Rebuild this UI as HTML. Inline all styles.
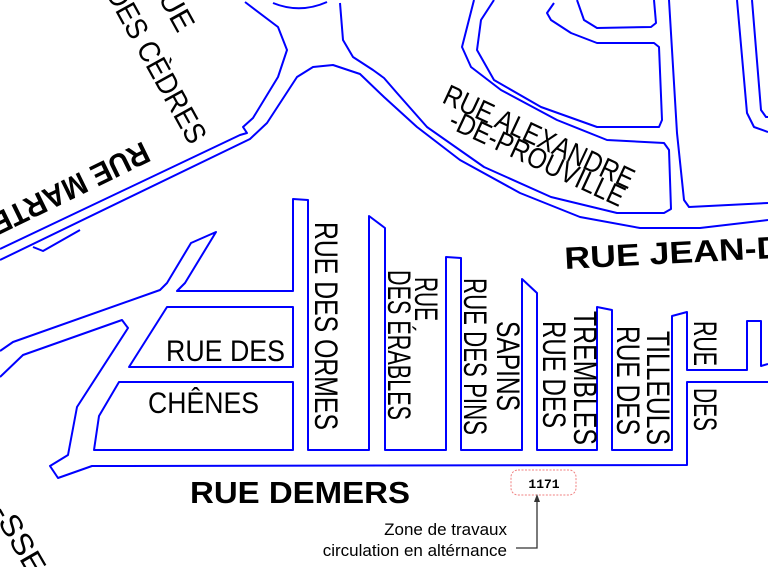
<!DOCTYPE html>
<html><head><meta charset="utf-8"><style>
html,body{margin:0;padding:0;background:#fff;}
svg{display:block;}
text{font-family:"Liberation Sans",sans-serif;fill:#000;}
</style></head><body>
<svg width="768" height="567" viewBox="0 0 768 567" xmlns="http://www.w3.org/2000/svg">
<g fill="none" stroke="#0000ff" stroke-width="2" stroke-linejoin="round">
<polyline points="0,249 240,135 247,133 243,127 253,118 278,77 287,50 278,27 245,2"/>
<polyline points="0,260 250,139 267,123 297,77 313,67 333,65 360,74 384,97 417,127 460,160 520,193 580,217 640,228 700,228 768,220"/>
<path d="M33,247 L43,251 L80,230"/>
<path d="M273,3 Q300,14 327,2"/>
<polyline points="340,3 343,40 353,57 373,70 384,78 397,93 427,127 484,167 551,197 617,213 664,213 671,209 669,150 664,143 607,140 557,120 501,90 471,67 462,47 474,0"/>
<polyline points="494,0 481,20 477,50 494,80 541,107 597,127 659,127 662,120 659,47 654,43 597,43 571,33 551,20 547,13 554,3"/>
<polyline points="577,0 584,20 597,28 651,27 656,23 654,0"/>
<polyline points="669,0 677,133 684,200 689,207 768,203"/>
<polyline points="737,0 747,113 754,127 768,132"/>
<polyline points="752,0 761,110 766,117 768,117"/>
<polyline points="0,351 13,342 160,290 167,283 191,243 216,232 185,283 177,291 293,291 293,199 308,200 308,450 369,450 369,216 385,228 385,450 446,450 446,257 461,258 461,450 522,450 522,279 537,293 537,450 597,450 597,307 612,310 612,450 672,450 672,316 687,312 687,370 747,370 747,321 761,321 761,366 768,364"/>
<polyline points="768,382 687,382 687,465 92,466 58,478 50,466 68,455 77,407 128,328 122,320 23,355 0,377"/>
<polygon points="167,307 293,307 293,367 129,367"/>
<polygon points="119,382 293,382 293,450 94,450 99,416"/>
</g>
<text transform="translate(143,141) rotate(154)" font-size="31" font-weight="bold" textLength="190" lengthAdjust="spacingAndGlyphs">RUE MARTEL</text>
<text transform="translate(178,34) rotate(61)" font-size="30" text-anchor="end">RUE</text>
<text transform="translate(190,146) rotate(61)" font-size="30" text-anchor="end" textLength="175" lengthAdjust="spacingAndGlyphs">DES CÈDRES</text>
<text transform="translate(-8,512) rotate(60)" font-size="30" textLength="75" lengthAdjust="spacingAndGlyphs">-SSE</text>
<text transform="translate(441,102) rotate(25)" font-size="29" textLength="207" lengthAdjust="spacingAndGlyphs">RUE ALEXANDRE</text>
<text transform="translate(447,127) rotate(25)" font-size="29" textLength="190" lengthAdjust="spacingAndGlyphs">-DE-PROUVILLE</text>
<text transform="translate(565,269) rotate(-3)" font-size="31" font-weight="bold" textLength="218" lengthAdjust="spacingAndGlyphs">RUE JEAN-D</text>
<text x="190" y="503" font-size="31" font-weight="bold" textLength="220" lengthAdjust="spacingAndGlyphs">RUE DEMERS</text>
<text x="166" y="361" font-size="30" textLength="119" lengthAdjust="spacingAndGlyphs">RUE DES</text>
<text x="148" y="413" font-size="30" textLength="111" lengthAdjust="spacingAndGlyphs">CHÊNES</text>
<g font-size="32">
<text transform="translate(315,222) rotate(90)" textLength="208" lengthAdjust="spacingAndGlyphs">RUE DES ORMES</text>
<text transform="translate(388,270) rotate(90)" textLength="150" lengthAdjust="spacingAndGlyphs">DES ÉRABLES</text>
<text transform="translate(415,277) rotate(90)" textLength="44" lengthAdjust="spacingAndGlyphs">RUE</text>
<text transform="translate(464,278) rotate(90)" textLength="157" lengthAdjust="spacingAndGlyphs">RUE DES PINS</text>
<text transform="translate(497,321) rotate(90)" textLength="90" lengthAdjust="spacingAndGlyphs">SAPINS</text>
<text transform="translate(543,321) rotate(90)" textLength="107" lengthAdjust="spacingAndGlyphs">RUE DES</text>
<text transform="translate(574,311) rotate(90)" textLength="134" lengthAdjust="spacingAndGlyphs">TREMBLES</text>
<text transform="translate(617,326) rotate(90)" textLength="109" lengthAdjust="spacingAndGlyphs">RUE DES</text>
<text transform="translate(647,331) rotate(90)" textLength="114" lengthAdjust="spacingAndGlyphs">TILLEULS</text>
<text transform="translate(694,321) rotate(90)" textLength="45" lengthAdjust="spacingAndGlyphs">RUE</text>
<text transform="translate(694,388) rotate(90)" textLength="43" lengthAdjust="spacingAndGlyphs">DES</text>
</g>
<rect x="511" y="470" width="65" height="25" rx="7" fill="none" stroke="#f08080" stroke-width="1" stroke-dasharray="2,1.5"/>
<text x="544" y="488" font-size="13" font-weight="bold" text-anchor="middle" style="font-family:'Liberation Mono',monospace">1171</text>
<polyline points="516,548 537,548 537,499" fill="none" stroke="#333" stroke-width="1.3"/>
<polygon points="537,494 534,502 540,502" fill="#333"/>
<text x="507" y="535" font-size="17" text-anchor="end">Zone de travaux</text>
<text x="507" y="556" font-size="17" text-anchor="end">circulation en altérnance</text>
</svg>
</body></html>
